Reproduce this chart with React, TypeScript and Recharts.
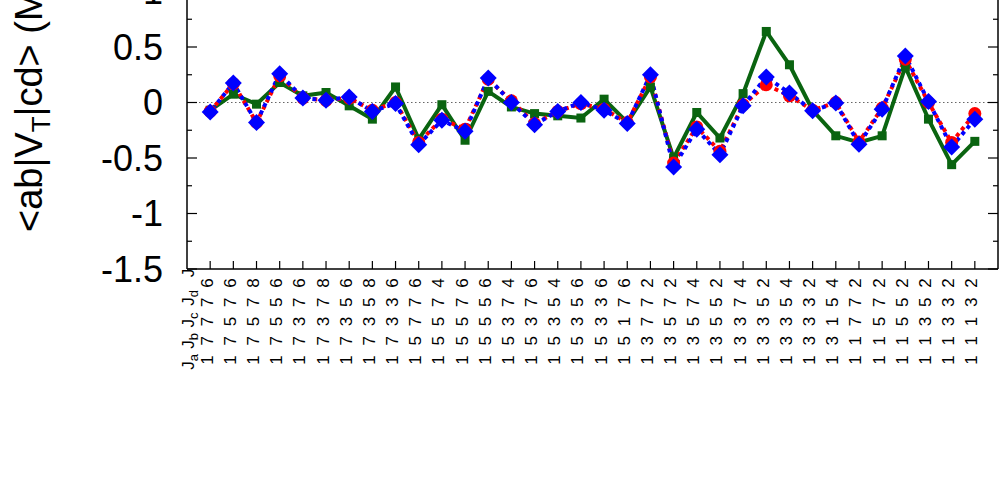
import { LineChart, Line, XAxis, YAxis, ReferenceLine } from "recharts";

const FONT = '"Liberation Sans", Arial, Helvetica, sans-serif';

// Ja Jb Jc Jd J for every matrix element
const stateLabels = [
  "1 7 7 7 6", "1 7 5 7 6", "1 7 5 7 8", "1 7 5 5 6", "1 7 3 7 6", "1 7 3 7 8",
  "1 7 3 5 6", "1 7 3 5 8", "1 7 3 3 6", "1 5 7 7 6", "1 5 5 7 4", "1 5 5 7 6",
  "1 5 5 5 6", "1 5 3 7 4", "1 5 3 7 6", "1 5 3 5 4", "1 5 3 5 6", "1 5 3 3 6",
  "1 5 1 7 6", "1 3 7 7 2", "1 3 5 7 2", "1 3 5 7 4", "1 3 5 5 2", "1 3 3 7 4",
  "1 3 3 5 2", "1 3 3 5 4", "1 3 3 3 2", "1 3 1 5 4", "1 1 7 7 2", "1 1 5 7 2",
  "1 1 5 5 2", "1 1 3 5 2", "1 1 3 3 2", "1 1 1 3 2",
];

const greenVals = [
  -0.07, 0.075, -0.015, 0.18, 0.06, 0.09, -0.03, -0.15, 0.14, -0.33, -0.02, -0.34,
  0.1, -0.04, -0.1, -0.12, -0.14, 0.03, -0.18, 0.14, -0.5, -0.09, -0.32, 0.08,
  0.64, 0.34, -0.07, -0.3, -0.36, -0.3, 0.32, -0.15, -0.56, -0.35,
];
const redVals = [
  -0.08, 0.17, -0.18, 0.24, 0.04, 0.02, 0.04, -0.07, 0.0, -0.36, -0.15, -0.24,
  0.21, 0.015, -0.19, -0.08, -0.01, -0.06, -0.18, 0.23, -0.545, -0.22, -0.44, -0.02,
  0.16, 0.06, -0.07, 0.0, -0.355, -0.05, 0.39, 0.0, -0.36, -0.1,
];
const blueVals = [
  -0.085, 0.175, -0.18, 0.26, 0.04, 0.02, 0.05, -0.08, -0.01, -0.38, -0.16, -0.26,
  0.22, 0.0, -0.2, -0.08, 0.0, -0.07, -0.19, 0.25, -0.58, -0.24, -0.47, -0.03,
  0.23, 0.085, -0.075, -0.005, -0.375, -0.06, 0.42, 0.01, -0.4, -0.15,
];

const yTicks = [-1.5, -1.25, -1, -0.75, -0.5, -0.25, 0, 0.25, 0.5, 0.75, 1, 1.25, 1.5];
const headerTokens = [["J", "a"], ["J", "b"], ["J", "c"], ["J", "d"], ["J", ""]];

const rows = stateLabels.map((lab, i) => ({
  x: i + 1,
  label: lab,
  green: greenVals[i],
  red: redVals[i],
  blue: blueVals[i],
}));
const xTicks = rows.map((r) => r.x);

const XTick = (props: any) => {
  const { x, y, payload } = props;
  const i = payload.value - 1;
  const chars = stateLabels[i].split(" ");
  const hx = x - 16;
  const headerY = [93, 72, 51, 29, 4];
  return (
    <g>
      <line x1={x} y1={y} x2={x} y2={y - 8} stroke="#000" strokeWidth={1.2} />
      {chars.map((c, k) => {
        const cy = y + 91 - k * 19.25;
        return (
          <text key={k} x={x + 2.5} y={cy} transform={`rotate(-90 ${x + 2.5} ${cy})`}
            textAnchor="middle" fontSize={17} fontFamily={FONT} fill="#000">{c}</text>
        );
      })}
      {i === 0 &&
        headerTokens.map(([a, b], k) => {
          const cy = y + headerY[k];
          return (
            <text key={"h" + k} x={hx} y={cy} transform={`rotate(-90 ${hx} ${cy})`}
              textAnchor="middle" fontSize={17} fontFamily={FONT} fill="#000">
              {a}
              {b && <tspan fontSize={13} dy={4}>{b}</tspan>}
            </text>
          );
        })}
    </g>
  );
};

const LeftTick = (props: any) => {
  const { x, y, payload } = props;
  const v = payload.value;
  const major = Math.abs(v * 2 - Math.round(v * 2)) < 1e-6;
  return (
    <g>
      <line x1={x} y1={y} x2={x + (major ? 10 : 5)} y2={y} stroke="#000" strokeWidth={1.2} />
      {major && (
        <text x={x - 24} y={y} dy="0.36em" textAnchor="end" fontSize={36} fontFamily={FONT} fill="#000">
          {String(v)}
        </text>
      )}
    </g>
  );
};

const RightTick = (props: any) => {
  const { x, y, payload } = props;
  const v = payload.value;
  const major = Math.abs(v * 2 - Math.round(v * 2)) < 1e-6;
  return <line x1={x} y1={y} x2={x - (major ? 10 : 5)} y2={y} stroke="#000" strokeWidth={1.2} />;
};

const Square = (props: any) => {
  const { cx, cy, index } = props;
  return <rect key={"s" + index} x={cx - 4.5} y={cy - 4.5} width={9} height={9} fill="#0a6410" />;
};
const Circle = (props: any) => {
  const { cx, cy, index } = props;
  return <circle key={"c" + index} cx={cx} cy={cy} r={6.5} fill="#ff0000" />;
};
const Diamond = (props: any) => {
  const { cx, cy, index } = props;
  const s = 8.5;
  return (
    <polygon key={"d" + index}
      points={`${cx},${cy - s} ${cx + s},${cy} ${cx},${cy + s} ${cx - s},${cy}`}
      fill="#0000ff" />
  );
};

export default function App() {
  return (
    <div style={{ position: "fixed", left: 0, top: 0, width: 1000, height: 486, overflow: "hidden", background: "#fff" }}>
      <div style={{ position: "absolute", left: 0, top: -100 }}>
        <LineChart width={1000} height={586} data={rows} margin={{ top: 36, right: 0, bottom: 117, left: 0 }}>
          <XAxis dataKey="x" type="number" domain={[0, 35]} ticks={xTicks} allowDataOverflow
            height={100} tickLine={false} tickSize={0} tickMargin={0} interval={0}
            axisLine={{ stroke: "#000", strokeWidth: 1.5 }} tick={<XTick />} />
          <YAxis yAxisId="l" type="number" domain={[-1.5, 1.5]} ticks={yTicks} allowDataOverflow
            width={187} tickLine={false} tickSize={0} tickMargin={0} interval={0}
            axisLine={{ stroke: "#000", strokeWidth: 1.5 }} tick={<LeftTick />} />
          <YAxis yAxisId="r" orientation="right" type="number" domain={[-1.5, 1.5]} ticks={yTicks} allowDataOverflow
            width={2} tickLine={false} tickSize={0} tickMargin={0} interval={0}
            axisLine={{ stroke: "#000", strokeWidth: 1.5 }} tick={<RightTick />} />
          <ReferenceLine yAxisId="l" y={0} stroke="#666" strokeWidth={1} strokeDasharray="1.5 2.5" />
          <Line yAxisId="l" dataKey="green" stroke="#0a6410" strokeWidth={4} type="linear"
            dot={<Square />} activeDot={false} isAnimationActive={false} />
          <Line yAxisId="l" dataKey="red" stroke="#ff0000" strokeWidth={4} strokeDasharray="4 4" type="linear"
            dot={<Circle />} activeDot={false} isAnimationActive={false} />
          <Line yAxisId="l" dataKey="blue" stroke="#0000ff" strokeWidth={4} strokeDasharray="4 4" strokeDashoffset={4}
            type="linear" dot={<Diamond />} activeDot={false} isAnimationActive={false} />
        </LineChart>
      </div>
      <svg width={1000} height={486} style={{ position: "absolute", left: 0, top: 0, pointerEvents: "none" }}>
        <text x={42} y={232} transform="rotate(-90 42 232)" textAnchor="start" fontSize={38} fontFamily={FONT} fill="#000">
          {"<ab|V"}
          <tspan fontSize={26} dy={8}>T</tspan>
          <tspan dy={-8}>{"|cd> (MeV)"}</tspan>
        </text>
      </svg>
    </div>
  );
}
